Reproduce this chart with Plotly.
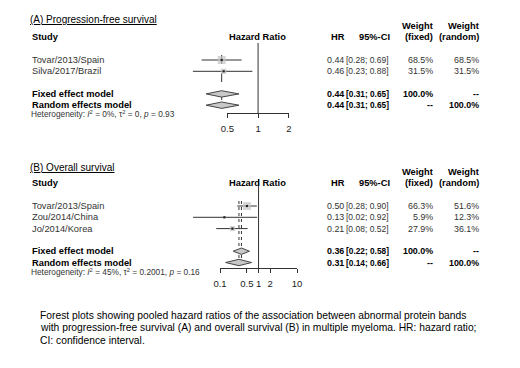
import math
import plotly.graph_objects as go

# page body has an 8px margin: the figure is sized to fit the 520x368 window
OFF = 8
W, H = 520 - 2 * OFF, 368 - 2 * OFF

# ---------------- data ----------------
pfs_studies = ["Tovar/2013/Spain", "Silva/2017/Brazil"]
pfs_hr = [0.44, 0.46]
pfs_lo = [0.28, 0.23]
pfs_hi = [0.69, 0.88]
pfs_wf = [68.5, 31.5]
pfs_wr = [68.5, 31.5]
pfs_fixed = [0.44, 0.31, 0.65]
pfs_random = [0.44, 0.31, 0.65]
pfs_het = "Heterogeneity: <i>I</i><sup>2</sup> = 0%, τ<sup>2</sup> = 0, <i>p</i> = 0.93"
pfs_ticks = [0.5, 1, 2]
pfs_ticklabels = ["0.5", "1", "2"]

os_studies = ["Tovar/2013/Spain", "Zou/2014/China", "Jo/2014/Korea"]
os_hr = [0.50, 0.13, 0.21]
os_lo = [0.28, 0.02, 0.08]
os_hi = [0.90, 0.92, 0.52]
os_wf = [66.3, 5.9, 27.9]
os_wr = [51.6, 12.3, 36.1]
os_fixed = [0.36, 0.22, 0.58]
os_random = [0.31, 0.14, 0.66]
os_het = "Heterogeneity: <i>I</i><sup>2</sup> = 45%, τ<sup>2</sup> = 0.2001, <i>p</i> = 0.16"
os_ticks = [0.1, 0.5, 1, 2, 10]
os_ticklabels = ["0.1", "0.5", "1", "2", "10"]

caption = [
    "Forest plots showing pooled hazard ratios of the association between abnormal protein bands",
    "with progression-free survival (A) and overall survival (B) in multiple myeloma. HR: hazard ratio;",
    "CI: confidence interval.",
]

# ---------------- style ----------------
FONT = "Liberation Sans, Arial, sans-serif"
TXT = "#333333"
FS = 9.3
FV = 8.9    # value columns
FCI = 8.5   # CI column
FCIB = 8.3  # bold CI

fig = go.Figure()
annotations = []


def px(x):
    return (x - OFF) / W


def txt(x, y, s, anchor="left", bold=False, size=FS, color=TXT):
    if bold:
        s = "<b>" + s + "</b>"
        color = "#000000"
    annotations.append(dict(
        x=px(x), xref="paper", y=y, yref="y", text=s, showarrow=False,
        xanchor=anchor, yanchor="middle", borderpad=0,
        font=dict(family=FONT, size=size, color=color)))


def panel(title, studies, hr, lo, hi, wf, wr, fixed, rand, het,
          xa, base_y, rows, sum_rows, title_y, head_y, ref_top, ref_bot, dash,
          het_y):
    txt(22, title_y, "<u>" + title + "</u>", size=10, color="#000000")
    txt(24, head_y, "Study", bold=True)
    txt(256.5, head_y, "Hazard Ratio", anchor="center", bold=True)
    txt(347, head_y, "HR", anchor="right", bold=True)
    txt(393, head_y, "95%-CI", anchor="right", bold=True)
    txt(437, head_y - 11.5, "Weight", anchor="right", bold=True)
    txt(437, head_y, "(fixed)", anchor="right", bold=True)
    txt(484, head_y - 11.5, "Weight", anchor="right", bold=True)
    txt(484, head_y, "(random)", anchor="right", bold=True)

    sp = 11.3
    ys = [base_y + (r - 1) * sp for r in rows]
    y_fix = base_y + (sum_rows[0] - 1) * sp
    y_ran = base_y + (sum_rows[1] - 1) * sp

    fig.add_trace(go.Scatter(x=[1, 1], y=[ref_top, ref_bot], xaxis=xa, yaxis="y",
                             mode="lines", line=dict(color="#333333", width=1),
                             hoverinfo="skip", showlegend=False))
    for est in ([fixed[0]] if dash == "dash" else [fixed[0], rand[0]]):
        fig.add_trace(go.Scatter(x=[est, est], y=[ys[0] - 5, y_ran], xaxis=xa, yaxis="y",
                                 mode="lines", line=dict(color="#333333", width=1, dash=dash),
                                 hoverinfo="skip", showlegend=False))
    cx, cy = [], []
    for l, h, y in zip(lo, hi, ys):
        cx += [l, h, None]
        cy += [y, y, None]
    fig.add_trace(go.Scatter(x=cx, y=cy, xaxis=xa, yaxis="y", mode="lines",
                             line=dict(color="#333333", width=1),
                             hoverinfo="skip", showlegend=False))
    fig.add_trace(go.Scatter(x=hr, y=ys, xaxis=xa, yaxis="y", mode="markers",
                             marker=dict(symbol="square", color="#c4c4c4",
                                         size=[0.97 * math.sqrt(w) for w in wf],
                                         line=dict(width=0)),
                             hoverinfo="skip", showlegend=False))
    fig.add_trace(go.Scatter(x=hr, y=ys, xaxis=xa, yaxis="y", mode="markers",
                             marker=dict(symbol="square", color="#222222", size=2.2),
                             hoverinfo="skip", showlegend=False))
    for est, y in ((fixed, y_fix), (rand, y_ran)):
        e, l, h = est
        fig.add_trace(go.Scatter(x=[l, e, h, e, l], y=[y, y - 3.2, y, y + 3.2, y],
                                 xaxis=xa, yaxis="y", mode="lines", fill="toself",
                                 fillcolor="#c8c8c8", line=dict(color="#444444", width=1),
                                 hoverinfo="skip", showlegend=False))

    for name, h_, l, hi_, f, r, y in zip(studies, hr, lo, hi, wf, wr, ys):
        txt(24, y, name)
        txt(346.5, y, f"{h_:.2f}", anchor="right", size=FV)
        txt(392, y, f"[{l:.2f}; {hi_:.2f}]", anchor="right", size=FCI)
        txt(437, y, f"{f:.1f}%", anchor="right", size=FV)
        txt(484, y, f"{r:.1f}%", anchor="right", size=FV)
    txt(24, y_fix, "Fixed effect model", bold=True)
    txt(24, y_ran, "Random effects model", bold=True)
    txt(346.5, y_fix, f"{fixed[0]:.2f}", anchor="right", bold=True, size=FV)
    txt(392, y_fix, f"[{fixed[1]:.2f}; {fixed[2]:.2f}]", anchor="right", bold=True, size=FCIB)
    txt(437, y_fix, "100.0%", anchor="right", bold=True, size=FV)
    txt(484, y_fix, "--", anchor="right", bold=True, size=FV)
    txt(346.5, y_ran, f"{rand[0]:.2f}", anchor="right", bold=True, size=FV)
    txt(392, y_ran, f"[{rand[1]:.2f}; {rand[2]:.2f}]", anchor="right", bold=True, size=FCIB)
    txt(437, y_ran, "--", anchor="right", bold=True, size=FV)
    txt(484, y_ran, "100.0%", anchor="right", bold=True, size=FV)
    txt(23, het_y, het, size=8.3)


panel("(A) Progression-free survival", pfs_studies, pfs_hr, pfs_lo, pfs_hi, pfs_wf, pfs_wr,
      pfs_fixed, pfs_random, pfs_het, "x", 60, [1, 2], [4, 5], 19, 37, 43, 113, "dash", 114)
panel("(B) Overall survival", os_studies, os_hr, os_lo, os_hi, os_wf, os_wr,
      os_fixed, os_random, os_het, "x2", 206, [1, 2, 3], [5, 6], 167, 183, 179, 268, "dot", 272)

fig.add_trace(go.Scatter(x=[1], y=[-50], xaxis="x3", yaxis="y", mode="markers",
                         marker=dict(opacity=0), hoverinfo="skip", showlegend=False))
fig.add_trace(go.Scatter(x=[1], y=[-50], xaxis="x4", yaxis="y", mode="markers",
                         marker=dict(opacity=0), hoverinfo="skip", showlegend=False))

for i, line in enumerate(caption):
    annotations.append(dict(x=px(33), xref="paper", y=315 + i * 12.8, yref="y", text=line,
                            showarrow=False, xanchor="left", yanchor="middle", borderpad=0,
                            font=dict(family=FONT, size=10.3, color="#000000")))

# pixel geometry of the HR axes (reference pixel coords)
A_one, A_dec = 257.0, 104.6
B_one, B_dec = 257.5, 39.5


def log_range(one, dec):
    left = (one - OFF) / dec
    right = (W + OFF - one) / dec
    return [-left, right]


def yfrac(y):
    return 1 - (y - OFF) / H


hidden = dict(visible=False, showgrid=False, zeroline=False)
axis_style = dict(type="log", anchor="free", showline=True, linecolor="#333333", linewidth=1,
                  ticks="outside", ticklen=4, tickcolor="#333333", tickwidth=1,
                  showgrid=False, zeroline=False, ticklabelstandoff=3,
                  tickfont=dict(family=FONT, size=9.5, color="#222222"))
fig.update_layout(
    width=W, height=H, margin=dict(l=0, r=0, t=0, b=0),
    paper_bgcolor="white", plot_bgcolor="rgba(0,0,0,0)",
    font=dict(family=FONT, color=TXT),
    xaxis=dict(type="log", domain=[0, 1], range=log_range(A_one, A_dec), anchor="y", **hidden),
    xaxis2=dict(type="log", domain=[0, 1], range=log_range(B_one, B_dec), anchor="y", **hidden),
    yaxis=dict(domain=[0, 1], range=[H + OFF, OFF], **hidden),
    xaxis3=dict(domain=[px(A_one - A_dec * math.log10(2)), px(A_one + A_dec * math.log10(2))],
                range=[math.log10(0.5), math.log10(2)], position=yfrac(113),
                tickvals=pfs_ticks, ticktext=pfs_ticklabels, **axis_style),
    xaxis4=dict(domain=[px(B_one - B_dec), px(B_one + B_dec)],
                range=[-1, 1], position=yfrac(268),
                tickvals=os_ticks, ticktext=os_ticklabels, **axis_style),
    annotations=annotations,
)

fig.write_html("out.html")
